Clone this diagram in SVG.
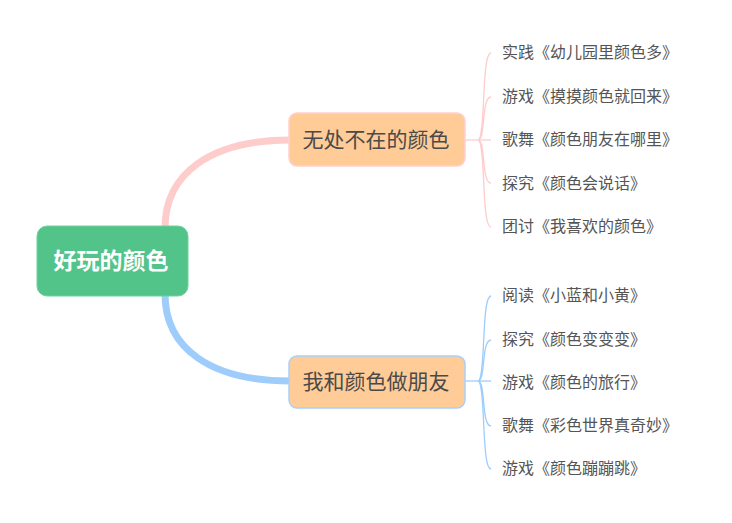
<svg xmlns="http://www.w3.org/2000/svg" width="732" height="523" viewBox="0 0 732 523">
<style>
.root{fill:#52C48A;stroke:#6DD49E;stroke-width:1}
.rt{font-family:"Noto Sans CJK SC","Noto Sans",sans-serif;font-size:23px;font-weight:bold;fill:#ffffff}
.br{fill:#FFCB96}
.bt{font-family:"Noto Sans CJK SC","Noto Sans",sans-serif;font-size:21px;fill:#4a4a4a}
.lt{font-family:"Noto Sans CJK SC","Noto Sans",sans-serif;font-size:16px;fill:#555555}
.pk{stroke:#FFCCCC;fill:none}
.bl{stroke:#9ECDFC;fill:none}
</style>
<rect width="732" height="523" fill="#ffffff"/>
<g id="connectors">
<path class="pk" stroke-width="7" d="M165,228 C165,174 210,140 290,140"/>
<path class="bl" stroke-width="7" d="M165,294 C165,348 210,381 290,381"/>
<g class="pk" stroke-width="1.3">
<path d="M465,140 L491,140"/>
<path d="M478,140 C486,140 481,53 491,53"/>
<path d="M478,140 C486,140 481,97 491,97"/>
<path d="M478,140 C486,140 481,183 491,183"/>
<path d="M478,140 C486,140 481,227 491,227"/>
</g>
<g class="bl" stroke-width="1.3">
<path d="M465,381 L491,381"/>
<path d="M478,381 C486,381 481,296 491,296"/>
<path d="M478,381 C486,381 481,340 491,340"/>
<path d="M478,381 C486,381 481,426 491,426"/>
<path d="M478,381 C486,381 481,469 491,469"/>
</g>
</g>
<g id="root">
<rect class="root" x="37" y="226" width="151" height="70" rx="10"/>
<text class="rt" x="111" y="269" text-anchor="middle">好玩的颜色</text>
</g>
<g id="branch1">
<rect class="br" x="289" y="113" width="176" height="53" rx="8" stroke="#FFD1D1" stroke-width="1.5"/>
<text class="bt" x="376" y="147" text-anchor="middle">无处不在的颜色</text>
</g>
<g id="branch2">
<rect class="br" x="289" y="356" width="176" height="52" rx="8" stroke="#A8D1FA" stroke-width="1.5"/>
<text class="bt" x="376" y="389" text-anchor="middle">我和颜色做朋友</text>
</g>
<g id="leaves1">
<text class="lt" x="502" y="58">实践《幼儿园里颜色多》</text>
<text class="lt" x="502" y="102">游戏《摸摸颜色就回来》</text>
<text class="lt" x="502" y="145">歌舞《颜色朋友在哪里》</text>
<text class="lt" x="502" y="189">探究《颜色会说话》</text>
<text class="lt" x="502" y="232">团讨《我喜欢的颜色》</text>
</g>
<g id="leaves2">
<text class="lt" x="502" y="301">阅读《小蓝和小黄》</text>
<text class="lt" x="502" y="345">探究《颜色变变变》</text>
<text class="lt" x="502" y="388">游戏《颜色的旅行》</text>
<text class="lt" x="502" y="431">歌舞《彩色世界真奇妙》</text>
<text class="lt" x="502" y="474">游戏《颜色蹦蹦跳》</text>
</g>
</svg>
